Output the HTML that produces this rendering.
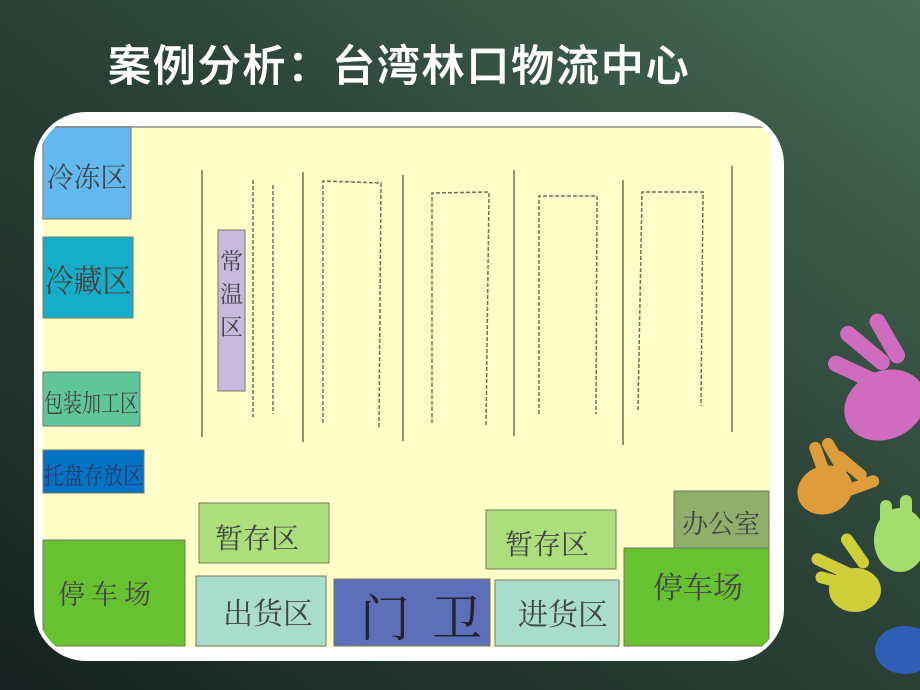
<!DOCTYPE html>
<html><head><meta charset="utf-8">
<style>
html,body{margin:0;padding:0;width:920px;height:690px;overflow:hidden;}
svg{display:block}
text{font-family:"Liberation Serif","Noto Serif CJK SC",serif;}
.t{font-family:"Liberation Sans","Noto Sans CJK SC",sans-serif;}
</style></head>
<body>
<svg width="920" height="690" viewBox="0 0 920 690" xmlns="http://www.w3.org/2000/svg">
<defs>
<linearGradient id="bg" x1="0" y1="1" x2="1" y2="0">
<stop offset="0" stop-color="#172421"/>
<stop offset="0.55" stop-color="#2c4338"/>
<stop offset="1" stop-color="#476b56"/>
</linearGradient>
<clipPath id="cp"><rect x="38" y="116" width="742" height="541" rx="48"/></clipPath>
</defs>
<rect width="920" height="690" fill="url(#bg)"/>
<text class="t" x="108" y="81" font-size="43" font-weight="500" letter-spacing="1.8" fill="#fff" stroke="#fff" stroke-width="0.5">案例分析：台湾林口物流中心</text>

<!-- hands -->
<g fill="#cf6cc0">
<ellipse cx="885" cy="405" rx="42" ry="34" transform="rotate(-25 885 405)"/>
<rect x="826" y="365" width="60" height="16" rx="8" transform="rotate(25 856 373)"/>
<rect x="835" y="340" width="60" height="16" rx="8" transform="rotate(40 865 348)"/>
<rect x="860" y="330" width="55" height="16" rx="8" transform="rotate(60 887 338)"/>
</g>
<g fill="#df9c3a">
<ellipse cx="825" cy="490" rx="28" ry="24" transform="rotate(-20 825 490)"/>
<rect x="800" y="455" width="40" height="12" rx="6" transform="rotate(70 820 461)"/>
<rect x="815" y="450" width="40" height="12" rx="6" transform="rotate(60 835 456)"/>
<rect x="830" y="460" width="40" height="12" rx="6" transform="rotate(40 850 466)"/>
<rect x="840" y="480" width="40" height="12" rx="6" transform="rotate(-20 860 486)"/>
</g>
<g fill="#a4dd6c">
<ellipse cx="900" cy="540" rx="26" ry="32"/>
<rect x="880" y="500" width="12" height="40" rx="6"/>
<rect x="900" y="495" width="12" height="40" rx="6"/>
</g>
<g fill="#cfcf3a">
<ellipse cx="855" cy="590" rx="26" ry="22"/>
<rect x="810" y="560" width="45" height="12" rx="6" transform="rotate(25 832 566)"/>
<rect x="815" y="575" width="40" height="12" rx="6" transform="rotate(15 835 581)"/>
<rect x="835" y="545" width="40" height="12" rx="6" transform="rotate(55 855 551)"/>
</g>
<ellipse cx="905" cy="650" rx="30" ry="24" fill="#2f5fb5"/>

<!-- frame -->
<rect x="34" y="112" width="750" height="549" rx="52" fill="#fff"/>
<g clip-path="url(#cp)">
<rect x="38" y="116" width="742" height="541" fill="#fff"/>
<rect x="43" y="126" width="727" height="521" fill="#fffec8"/>
<line x1="43" y1="127" x2="770" y2="127" stroke="#a8a8a0" stroke-width="2"/>

<g stroke="#777760" stroke-width="1">
<rect x="43" y="127" width="88" height="92" fill="#62b9ef"/>
<rect x="43" y="237" width="90" height="81" fill="#17adc8"/>
<rect x="43" y="372" width="97" height="54" fill="#5fc69c"/>
<rect x="43" y="450" width="101" height="43" fill="#0473c4"/>
<rect x="218" y="230" width="27" height="161" fill="#c6bbde"/>
<rect x="43" y="540" width="142" height="106" fill="#67c232"/>
<rect x="199" y="503" width="130" height="60" fill="#acdf7b"/>
<rect x="196" y="576" width="130" height="70" fill="#a8dccb"/>
<rect x="334" y="579" width="156" height="67" fill="#5d6fb9"/>
<rect x="486" y="510" width="130" height="59" fill="#acdf7b"/>
<rect x="495" y="580" width="124" height="66" fill="#a8dccb"/>
<rect x="674" y="491" width="95" height="57" fill="#8faf6b"/>
<rect x="624" y="548" width="145" height="98" fill="#67c232"/>
</g>

<g fill="#444">
<text x="47" y="187" font-size="28" textLength="80" lengthAdjust="spacingAndGlyphs">冷冻区</text>
<text x="45" y="292" font-size="32" textLength="86" lengthAdjust="spacingAndGlyphs">冷藏区</text>
<text x="44" y="412" font-size="25" textLength="95" lengthAdjust="spacingAndGlyphs">包装加工区</text>
<text x="44" y="484" font-size="24" fill="#2a3a6a" textLength="99" lengthAdjust="spacingAndGlyphs">托盘存放区</text>
<text x="220" y="269" font-size="23">常</text>
<text x="220" y="302" font-size="23">温</text>
<text x="220" y="335" font-size="23">区</text>
<text x="58" y="604" font-size="27" letter-spacing="6">停车场</text>
<text x="215" y="548" font-size="28">暂存区</text>
<text x="223" y="624" font-size="30">出货区</text>
<text x="360" y="636" font-size="50" fill="#223" letter-spacing="22">门卫</text>
<text x="505" y="554" font-size="28">暂存区</text>
<text x="518" y="625" font-size="30">进货区</text>
<text x="682" y="533" font-size="26">办公室</text>
<text x="653" y="598" font-size="30">停车场</text>
</g>

<g stroke="#6f6f58" stroke-width="1.5" fill="none">
<line x1="202" y1="170" x2="202" y2="437"/>
<line x1="303" y1="172" x2="303" y2="442"/>
<line x1="403" y1="175" x2="403" y2="441"/>
<line x1="514" y1="170" x2="514" y2="436"/>
<line x1="623" y1="180" x2="623" y2="445"/>
<line x1="732" y1="166" x2="732" y2="432"/>
</g>
<g stroke="#6f6f58" stroke-width="1.5" fill="none" stroke-dasharray="4 2">
<line x1="253" y1="180" x2="253" y2="417"/>
<line x1="273" y1="185" x2="273" y2="414"/>
<polyline points="323,423 323,181 381,183 379,427"/>
<polyline points="432,423 432,193 489,192 486,427"/>
<polyline points="539,414 539,196 597,196 596,414"/>
<polyline points="638,410 642,192 703,192 701,406"/>
</g>
</g>
</svg>
</body></html>
